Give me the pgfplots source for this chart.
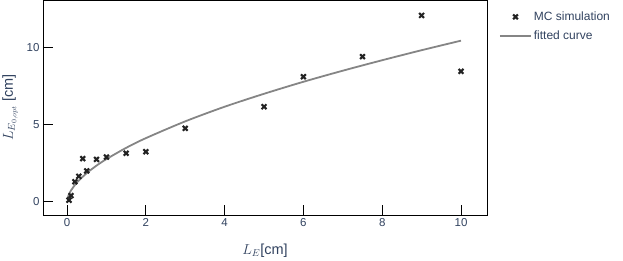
\documentclass[border=0pt]{standalone}
\usepackage{fontspec}
\setmainfont{Liberation Sans}
\usepackage{pgfplots}
\pgfplotsset{compat=1.18}
\definecolor{txt}{HTML}{31425F}
\definecolor{fitgray}{HTML}{858585}
\definecolor{mk}{HTML}{222222}
\begin{document}
\begin{tikzpicture}[x=1pt,y=1pt]
\useasboundingbox (-43,-45) rectangle (580,215);
\begin{axis}[
  scale only axis,
  width=444pt, height=215pt,
  xmin=-0.61, xmax=10.66,
  ymin=-0.86, ymax=13.1,
  xtick={0,2,4,6,8,10},
  ytick={0,5,10},
  tick pos=left,
  tick align=inside,
  major tick length=10pt,
  axis line style={black, line width=0.8pt},
  every tick/.style={black, line width=0.8pt},
  /pgf/number format/assume math mode=true,
  tick label style={font=\fontsize{11.5}{13}\selectfont, text=txt},
  xlabel={$L_E$[cm]},
  ylabel={$L_{E_{0,opt}}$ [cm]},
  label style={font=\fontsize{14.5}{16}\selectfont, text=txt},
  xlabel style={yshift=-10pt},
  ylabel style={yshift=2pt},
  legend style={at={(1.02,0.965)}, anchor=north west, draw=none, fill=none,
    font=\fontsize{12}{13}\selectfont, text=txt, row sep=5pt,
    legend cell align=left},
  legend image code/.code={\draw[mark repeat=2,mark phase=2,#1] plot coordinates {(0pt,0pt) (15.5pt,0pt) (31pt,0pt)};},
  clip=false,
]
\addplot[only marks, mark=x, mark size=3.4pt, line width=2.1pt, color=mk]
coordinates {
(0.05,0.1) (0.1,0.4) (0.2,1.3) (0.3,1.65) (0.4,2.8) (0.5,2.0)
(0.75,2.75) (1,2.9) (1.5,3.15) (2,3.25) (3,4.77) (5,6.17)
(6,8.12) (7.5,9.42) (9,12.1) (10,8.47)
};
\addlegendentry{MC simulation}
\addplot[color=fitgray, line width=1.8pt, smooth]
coordinates {
(0.01,0.19) (0.02,0.29) (0.05,0.49) (0.1,0.73) (0.2,1.09) (0.3,1.38)
(0.5,1.86) (0.75,2.35) (1,2.77) (1.5,3.50) (2,4.13) (3,5.22) (4,6.17)
(5,7.01) (6,7.79) (7,8.51) (8,9.19) (9,9.84) (10,10.46)
};
\addlegendentry{fitted curve}
\end{axis}
\end{tikzpicture}
\end{document}
